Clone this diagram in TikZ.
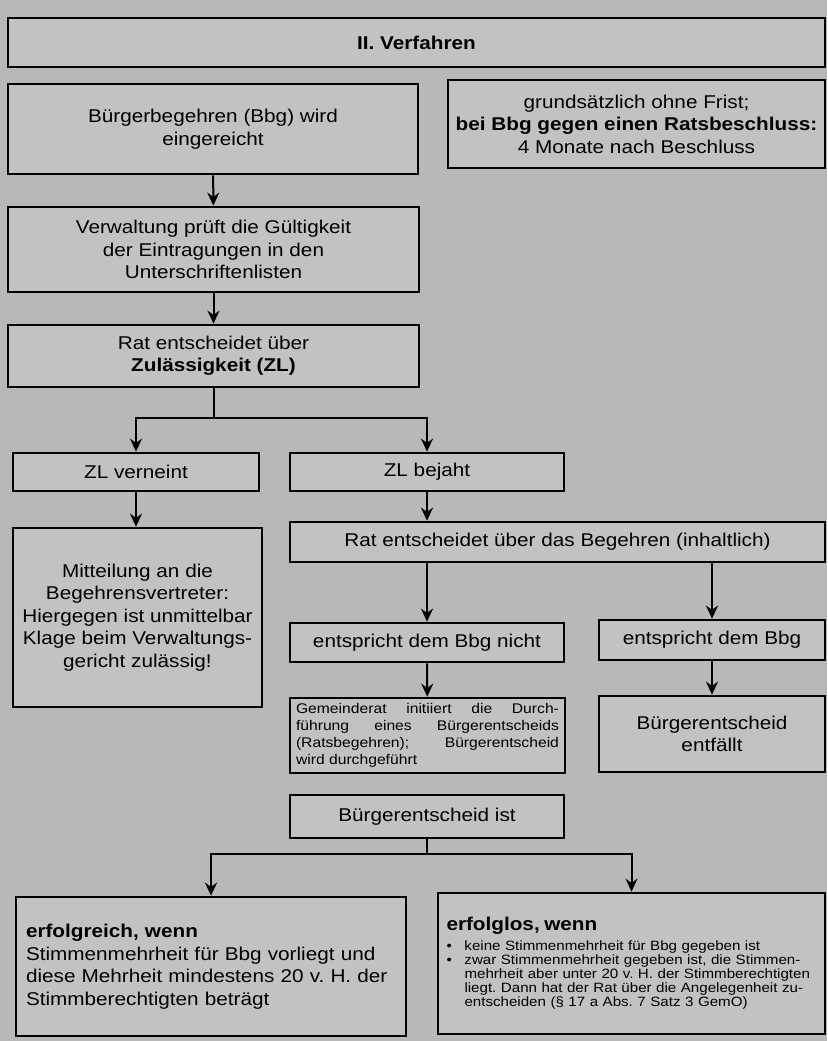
\documentclass[tikz,border=0pt]{standalone}
\usepackage{fontspec}
\setmainfont{Liberation Sans}[FakeStretch=1.12]
\usetikzlibrary{arrows.meta}
\definecolor{scangrau}{gray}{0.72}
\definecolor{kastengrau}{gray}{0.76}
\frenchspacing

\begin{document}
\begin{tikzpicture}[x=1pt, y=-1pt,
  kasten/.style={draw, line width=2.7pt, fill=kastengrau, align=center, inner sep=3pt,
    font=\fontsize{18.5}{22.5}\selectfont},
  kleintext/.style={font=\fontsize{14}{17}\selectfont},
  pfeil/.style={line width=2pt, -{Stealth[length=13pt, width=12pt]}}] % {{{
\useasboundingbox (0,0) rectangle (827,1041);
\fill[scangrau] (0,0) rectangle (827,1041);
% Kopf {{{
\node[kasten, minimum width=817pt, minimum height=49pt, font=\fontsize{18.5}{22.5}\selectfont\bfseries] (titel) at (416.5,42.5) {II. Verfahren};
\node[kasten, minimum width=410pt, minimum height=90pt] (einger) at (213,129) {Bürgerbegehren (Bbg) wird\\eingereicht};
\node[kasten, minimum width=377pt, minimum height=88pt] (frist) at (636.5,124) {grundsätzlich ohne Frist;\\\textbf{bei Bbg gegen einen Ratsbeschluss:}\\4 Monate nach Beschluss};
% }}}
% Zulaessigkeit {{{
\node[kasten, minimum width=411pt, minimum height=85pt] (pruef) at (213.5,249.5) {Verwaltung prüft die Gültigkeit\\der Eintragungen in den\\Unterschriftenlisten};
\node[kasten, minimum width=411pt, minimum height=62pt] (ratzl) at (213.5,356) {Rat entscheidet über\\\textbf{Zulässigkeit (ZL)}};
\node[kasten, minimum width=246pt, minimum height=38pt] (nein) at (136,472) {ZL verneint};
\node[kasten, minimum width=274pt, minimum height=38pt] (ja) at (427,472) {ZL bejaht};
\node[kasten, minimum width=249pt, minimum height=179pt] (mitt) at (137.5,617.5) {Mitteilung an die\\Begehrensvertreter:\\Hiergegen ist unmittelbar\\Klage beim Verwaltungs-\\gericht zulässig!};
% }}}
% Inhalt {{{
\node[kasten, minimum width=535pt, minimum height=40pt] (rathinh) at (557.5,542) {Rat entscheidet über das Begehren (inhaltlich)};
\node[kasten, minimum width=274pt, minimum height=39pt] (nicht) at (427,642.5) {entspricht dem Bbg nicht};
\node[kasten, minimum width=226pt, minimum height=40pt] (entspr) at (712,640) {entspricht dem Bbg};
\node[kasten, kleintext, minimum width=275pt, minimum height=75pt, text width=263pt, align=justify] (gemrat) at (427.5,735.5) {Gemeinderat initiiert die Durch-\linebreak führung eines Bürgerentscheids\linebreak (Ratsbegehren); Bürgerentscheid\linebreak wird durchgeführt};
\node[kasten, minimum width=226pt, minimum height=76pt] (entf) at (712,734) {Bürgerentscheid\\entfällt};
% }}}
% Ergebnis {{{
\node[kasten, minimum width=274pt, minimum height=43pt] (ist) at (427,816.5) {Bürgerentscheid ist};
\node[kasten, minimum width=390pt, minimum height=139pt, text width=370pt, align=left] (erfolg) at (211,966.5) {\textbf{erfolgreich, wenn}\\Stimmenmehrheit für Bbg vorliegt und\\diese Mehrheit mindestens 20 v. H. der\\Stimmberechtigten beträgt};
\node[kasten, minimum width=387pt, minimum height=141pt, text width=370pt, align=left, font=\fontsize{13.5}{14}\selectfont] (erfolglos) at (631.5,963.5) {{\fontsize{18.5}{22.5}\selectfont\bfseries erfolglos, wenn}\\[6pt]
  \makebox[18pt][l]{\textbullet}keine Stimmenmehrheit für Bbg gegeben ist\\
  \makebox[18pt][l]{\textbullet}zwar Stimmenmehrheit gegeben ist, die Stimmen-\\
  \hspace*{18pt}mehrheit aber unter 20 v. H. der Stimmberechtigten\\
  \hspace*{18pt}liegt. Dann hat der Rat über die Angelegenheit zu-\\
  \hspace*{18pt}entscheiden (§ 17 a Abs. 7 Satz 3 GemO)};
% }}}
% Pfeile {{{
\draw[pfeil] (einger) -- (pruef);
\draw[pfeil] (pruef) -- (ratzl);
\draw[line width=2pt] (ratzl.south) -- ++(0,30) coordinate (gabel1);
\draw[pfeil] (gabel1) -| (nein.north);
\draw[pfeil] (gabel1) -| (ja.north);
\draw[pfeil] (nein.south) -- (nein.south |- mitt.north);
\draw[pfeil] (ja.south) -- (ja.south |- rathinh.north);
\draw[pfeil] (rathinh.south -| nicht.north) -- (nicht.north);
\draw[pfeil] (rathinh.south -| entspr.north) -- (entspr.north);
\draw[pfeil] (nicht) -- (gemrat);
\draw[pfeil] (entspr) -- (entf);
\draw[line width=1.3pt] (ist.south) -- ++(0,14.5) coordinate (gabel2);
\draw[pfeil] (gabel2) -| (erfolg.north);
\draw[pfeil] (gabel2) -| (erfolglos.north);
% }}}
\end{tikzpicture} % }}}
\end{document}
